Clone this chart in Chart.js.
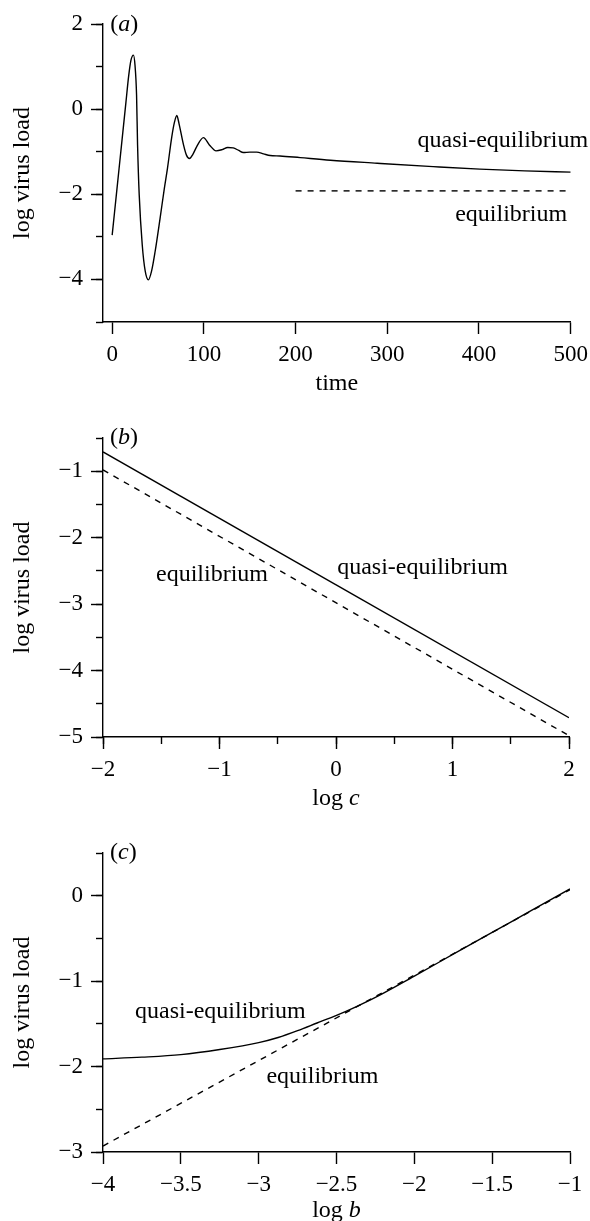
<!DOCTYPE html>
<html><head><meta charset="utf-8">
<script src="https://cdn.jsdelivr.net/npm/chart.js@4/dist/chart.umd.min.js"></script>
<style>
html,body{margin:0;padding:0;background:#fff;}
#wrap{position:relative;width:590px;height:1221px;overflow:hidden;background:#fff;}
canvas{position:absolute;left:0;}
</style></head><body>
<div id="wrap">
<canvas id="ca" width="590" height="400" style="top:0px"></canvas>
<canvas id="cb" width="590" height="420" style="top:400px"></canvas>
<canvas id="cc" width="590" height="401" style="top:820px"></canvas>
</div>
<script>
// ---------- data: panel (a) ----------
const timeA  = [0, 5, 10, 15, 18, 20.5, 23.2, 24.9, 26.6, 27.7, 29.5, 32.8, 36, 39.5, 43, 46.8, 52.2, 56.9, 60.3, 65, 68, 70.5, 73, 77.8, 81, 84.2, 88, 92.2, 99.5, 106, 113.3, 120, 126, 132, 138, 143, 150, 157.6, 165, 172.3, 183, 205, 238, 289, 350, 401, 450, 500];
const quasiA = [-2.96, -1.92, -0.88, 0.16, 0.78, 1.15, 1.27, 1.03, 0.33, -0.84, -2.02, -3.19, -3.8, -4.01, -3.8, -3.35, -2.57, -1.86, -1.39, -0.65, -0.3, -0.15, -0.35, -0.84, -1.08, -1.16, -1.06, -0.88, -0.67, -0.84, -0.98, -0.95, -0.90, -0.91, -0.97, -1.02, -1.01, -1.01, -1.05, -1.09, -1.10, -1.14, -1.20, -1.27, -1.35, -1.41, -1.45, -1.48];
const eqTimeA = [200, 500];
const eqA     = [-1.92, -1.92];
const xTicksA      = [0, 100, 200, 300, 400, 500];
const yMajorTicksA = [-4, -2, 0, 2];
const yMinorTicksA = [-5, -4, -3, -2, -1, 0, 1, 2];

// ---------- data: panel (b) ----------
const logC   = [-2, 2];
const quasiB = [-0.71, -4.71];
const eqB    = [-0.98, -4.98];
const xMajorTicksB = [-2, -1, 0, 1, 2];
const xMinorTicksB = [-2, -1.5, -1, -0.5, 0, 0.5, 1, 1.5, 2];
const yMajorTicksB = [-5, -4, -3, -2, -1];
const yMinorTicksB = [-5, -4.5, -4, -3.5, -3, -2.5, -2, -1.5, -1, -0.5];

// ---------- data: panel (c) ----------
const logBq  = [-4, -3.75, -3.5, -3.25, -3, -2.875, -2.75, -2.625, -2.5, -2.375, -2.25, -2, -1.75, -1.5, -1.25, -1];
const quasiC = [-1.91, -1.89, -1.86, -1.80, -1.72, -1.66, -1.58, -1.49, -1.40, -1.30, -1.19, -0.94, -0.685, -0.43, -0.175, 0.08];
const logBe  = [-4, -1];
const eqC    = [-2.93, 0.07];
const xTicksC      = [-4, -3.5, -3, -2.5, -2, -1.5, -1];
const yMajorTicksC = [-3, -2, -1, 0];
const yMinorTicksC = [-3, -2.5, -2, -1.5, -1, -0.5, 0, 0.5];

// ---------- styling ----------
const FONT = 'Liberation Serif';
const TICK_SIZE = 23;
const LABEL_SIZE = 24;
const LW = 1.4;
const fmt = v => String(v).replace('-', '\u2212');
const pts = (xs, ys) => xs.map((x, i) => ({x: x, y: ys[i]}));

function setTicks(arr){ return s => { s.ticks = arr.map(v => ({value: v})); }; }

function majorX(min, max, ticks, h){
  return {type:'linear', position:'bottom', min:min, max:max, weight:1,
    afterBuildTicks: setTicks(ticks),
    afterFit: s => { s.height = h; s.paddingLeft = 0; s.paddingRight = 0; },
    grid:{drawOnChartArea:false, drawTicks:true, tickLength:12, tickColor:'#000', tickWidth:LW},
    border:{display:true, color:'#000', width:LW},
    ticks:{color:'#000', font:{family:FONT, size:TICK_SIZE}, padding:7, maxRotation:0, autoSkip:false, callback: v => fmt(v)}};
}
function minorX(min, max, ticks){
  return {type:'linear', position:'bottom', min:min, max:max, weight:0,
    afterBuildTicks: setTicks(ticks),
    afterFit: s => { s.height = 0; s.paddingLeft = 0; s.paddingRight = 0; },
    grid:{drawOnChartArea:false, drawTicks:true, tickLength:7, tickColor:'#000', tickWidth:LW},
    border:{display:false}, ticks:{display:false}};
}
function majorY(min, max, ticks){
  return {type:'linear', position:'left', min:min, max:max, weight:1,
    afterBuildTicks: setTicks(ticks),
    afterFit: s => { s.width = 103; s.paddingTop = 0; s.paddingBottom = 0; },
    grid:{drawOnChartArea:false, drawTicks:true, tickLength:12, tickColor:'#000', tickWidth:LW},
    border:{display:true, color:'#000', width:LW},
    ticks:{color:'#000', font:{family:FONT, size:TICK_SIZE}, padding:8, autoSkip:false, callback: v => fmt(v)}};
}
function minorY(min, max, ticks){
  return {type:'linear', position:'left', min:min, max:max, weight:0,
    afterBuildTicks: setTicks(ticks),
    afterFit: s => { s.width = 0; s.paddingTop = 0; s.paddingBottom = 0; },
    grid:{drawOnChartArea:false, drawTicks:true, tickLength:7, tickColor:'#000', tickWidth:LW},
    border:{display:false}, ticks:{display:false}};
}

function drawParts(ctx, parts, x, y, align){
  let total = 0;
  parts.forEach(p => { ctx.font = p[1] + LABEL_SIZE + 'px "' + FONT + '"'; total += ctx.measureText(p[0]).width; });
  let cx = align === 'center' ? x - total / 2 : x;
  parts.forEach(p => { ctx.font = p[1] + LABEL_SIZE + 'px "' + FONT + '"'; ctx.fillText(p[0], cx, y); cx += ctx.measureText(p[0]).width; });
}

const textPlugin = {
  id: 'texts',
  afterDraw(chart, args, opts){
    const ctx = chart.ctx, ca = chart.chartArea;
    const sx = chart.scales.x, sy = chart.scales.y;
    ctx.save();
    ctx.fillStyle = '#000';
    ctx.textAlign = 'left';
    ctx.textBaseline = 'alphabetic';
    (opts.notes || []).forEach(n => {
      drawParts(ctx, n.parts, sx.getPixelForValue(n.x), sy.getPixelForValue(n.y), 'left');
    });
    if (opts.xTitle) drawParts(ctx, opts.xTitle, (ca.left + ca.right) / 2, ca.bottom + opts.xTitleGap, 'center');
    ctx.save();
    ctx.translate(29, (ca.top + ca.bottom) / 2);
    ctx.rotate(-Math.PI / 2);
    drawParts(ctx, [['log virus load', '']], 0, 0, 'center');
    ctx.restore();
    ctx.restore();
  }
};

function makeChart(id, datasets, scales, padTop, padRight, texts){
  return new Chart(document.getElementById(id), {
    type: 'line',
    data: {datasets: datasets},
    options: {
      responsive: false, animation: false,
      layout: {padding: {top: padTop, right: padRight, bottom: 0, left: 0}},
      plugins: {legend: {display: false}, tooltip: {enabled: false}, texts: texts},
      elements: {point: {radius: 0}},
      scales: scales
    },
    plugins: [textPlugin]
  });
}

const solid = (data) => ({data: data, borderColor: '#000', borderWidth: LW, fill: false, cubicInterpolationMode: 'monotone', xAxisID: 'x', yAxisID: 'y'});
const dashed = (data) => ({data: data, borderColor: '#000', borderWidth: LW, borderDash: [6, 6], fill: false, xAxisID: 'x', yAxisID: 'y'});

// panel (a)
makeChart('ca',
  [solid(pts(timeA, quasiA)), dashed(pts(eqTimeA, eqA))],
  {x: majorX(-10, 500, xTicksA, 78), y: majorY(-5, 2, yMajorTicksA), ym: minorY(-5, 2, yMinorTicksA)},
  24, 19.3,
  {notes: [
    {parts: [['quasi-equilibrium', '']], x: 333, y: -0.89},
    {parts: [['equilibrium', '']], x: 374, y: -2.63},
    {parts: [['(', ''], ['a', 'italic '], [')', '']], x: -2.2, y: 1.83}
  ], xTitle: [['time', '']], xTitleGap: 68});

// panel (b)
makeChart('cb',
  [solid(pts(logC, quasiB)), dashed(pts(logC, eqB))],
  {x: majorX(-2, 2, xMajorTicksB, 83), xm: minorX(-2, 2, xMinorTicksB), y: majorY(-5, -0.5, yMajorTicksB), ym: minorY(-5, -0.5, yMinorTicksB)},
  38, 21,
  {notes: [
    {parts: [['equilibrium', '']], x: -1.545, y: -2.65},
    {parts: [['quasi-equilibrium', '']], x: 0.01, y: -2.55},
    {parts: [['(', ''], ['b', 'italic '], [')', '']], x: -1.94, y: -0.59}
  ], xTitle: [['log ', ''], ['c', 'italic ']], xTitleGap: 68});

// panel (c)
makeChart('cc',
  [solid(pts(logBq, quasiC)), dashed(pts(logBe, eqC))],
  {x: majorX(-4, -1, xTicksC, 69), y: majorY(-3, 0.5, yMajorTicksC), ym: minorY(-3, 0.5, yMinorTicksC)},
  33, 20,
  {notes: [
    {parts: [['quasi-equilibrium', '']], x: -3.794, y: -1.43},
    {parts: [['equilibrium', '']], x: -2.95, y: -2.19},
    {parts: [['(', ''], ['c', 'italic '], [')', '']], x: -3.955, y: 0.433}
  ], xTitle: [['log ', ''], ['b', 'italic ']], xTitleGap: 65});
</script>
</body></html>
